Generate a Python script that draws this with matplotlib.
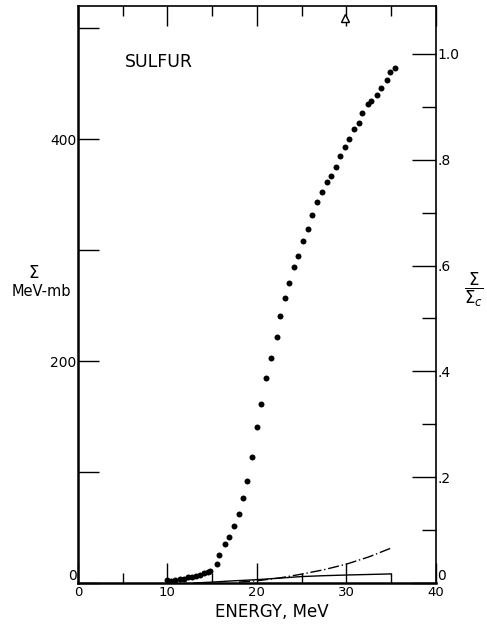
import matplotlib
matplotlib.use("Agg")
import matplotlib.pyplot as plt
import numpy as np

# measured points, Sigma in MeV-mb vs energy in MeV
energy = [9.9, 10.4, 10.9, 11.4, 11.8, 12.3, 12.7, 13.2, 13.6, 14.1, 14.5, 14.8,
          15.5, 15.8, 16.4, 16.9, 17.4, 18.0, 18.4, 18.9, 19.4, 20.0, 20.5, 21.0,
          21.6, 22.2, 22.6, 23.1, 23.6, 24.2, 24.6, 25.2, 25.7, 26.2, 26.7, 27.3,
          27.8, 28.3, 28.8, 29.3, 29.8, 30.3, 30.8, 31.4, 31.8, 32.4, 32.8, 33.4,
          33.9, 34.5, 34.9, 35.4]
sigma = [2.7, 2.1, 2.7, 3.6, 3.9, 5.1, 5.7, 6.6, 7.5, 8.7, 10.2, 11.1,
         16.8, 25.2, 34.9, 41.4, 51.4, 62.2, 76.3, 91.9, 113.7, 140.4, 161.3, 184.9,
         203.0, 221.4, 240.5, 256.8, 270.9, 285.0, 294.9, 308.4, 318.9, 332.2, 343.9, 352.3,
         361.3, 366.9, 374.8, 385.4, 392.8, 400.0, 409.3, 414.7, 424.0, 431.5, 434.5, 439.9,
         446.2, 453.2, 460.6, 464.6]

# dash-dot curve
dashdot_energy = [18, 20, 22.5, 25, 27.5, 30, 32.5, 35]
dashdot_sigma = [0.8, 2.0, 4.5, 8.0, 12.0, 17.0, 23.5, 31.5]

# solid curve
solid_energy = [13, 15, 17, 20, 22.5, 25, 27.5, 30, 32.5, 35]
solid_sigma = [0.0, 0.8, 1.8, 3.0, 4.4, 5.8, 6.6, 7.2, 7.7, 8.2]

triangle_energy = [29.8]
triangle_sigma = [509]

sigma_c = 477

fig = plt.figure(figsize=(4.87, 6.24), dpi=100)
ax = fig.add_axes([0.160, 0.0657, 0.735, 0.9243])

ax.plot(energy, sigma, "o", color="black", ms=4.3, mew=0)
ax.plot(dashdot_energy, dashdot_sigma, color="black", lw=1.0, dashes=(8, 2, 1, 2))
ax.plot(solid_energy, solid_sigma, color="black", lw=1.0)
ax.plot(triangle_energy, triangle_sigma, "^", mfc="white", mec="black", ms=5.5, mew=1.0)

ax.set_xlim(0, 40)
ax.set_ylim(0, 520)

ax.set_xticks([0, 10, 20, 30, 40])
ax.set_xticks([5, 15, 25, 35], minor=True)
ax.set_yticks([0, 100, 200, 300, 400, 500])
ax.set_yticklabels(["0", "", "200", "", "400", ""])

ax.tick_params(axis="x", which="major", direction="in", length=14.5, width=1.0,
               top=True, labelsize=9.5, pad=2.5)
ax.tick_params(axis="x", which="minor", direction="in", length=7, width=1.0, top=True)
ax.tick_params(axis="y", which="major", direction="in", length=15, width=1.0,
               labelsize=10, pad=1)

for side in ["left", "bottom"]:
    ax.spines[side].set_linewidth(1.8)
for side in ["top", "right"]:
    ax.spines[side].set_linewidth(1.2)

ax2 = ax.twinx()
ax2.set_ylim(0, 520 / sigma_c)
ax2.set_yticks([0, 0.2, 0.4, 0.6, 0.8, 1.0])
ax2.set_yticklabels(["0", ".2", ".4", ".6", ".8", "1.0"])
ax2.set_yticks([0.1, 0.3, 0.5, 0.7, 0.9], minor=True)
ax2.tick_params(axis="y", which="major", direction="in", length=17, width=1.0,
                labelsize=10, pad=1)
ax2.tick_params(axis="y", which="minor", direction="in", length=10, width=1.0)
for side in ax2.spines:
    ax2.spines[side].set_visible(False)

# lift the corner zeros so they sit above the energy labels
ax.get_yticklabels()[0].set_va("bottom")
ax2.get_yticklabels()[0].set_va("bottom")

ax.text(5.2, 470, "SULFUR", fontsize=12.5, ha="left", va="center")

fig.text(272 / 487, 1 - 612 / 624, "ENERGY, MeV", fontsize=12, ha="center", va="center")
fig.text(34 / 487, 1 - 273 / 624, r"$\Sigma$", fontsize=12, ha="center", va="center")
fig.text(41 / 487, 1 - 292 / 624, "MeV-mb", fontsize=10.5, ha="center", va="center")
fig.text(474 / 487, 1 - 290 / 624, r"$\dfrac{\Sigma}{\Sigma_c}$", fontsize=12,
         ha="center", va="center")

fig.savefig("out.png", dpi=100)
